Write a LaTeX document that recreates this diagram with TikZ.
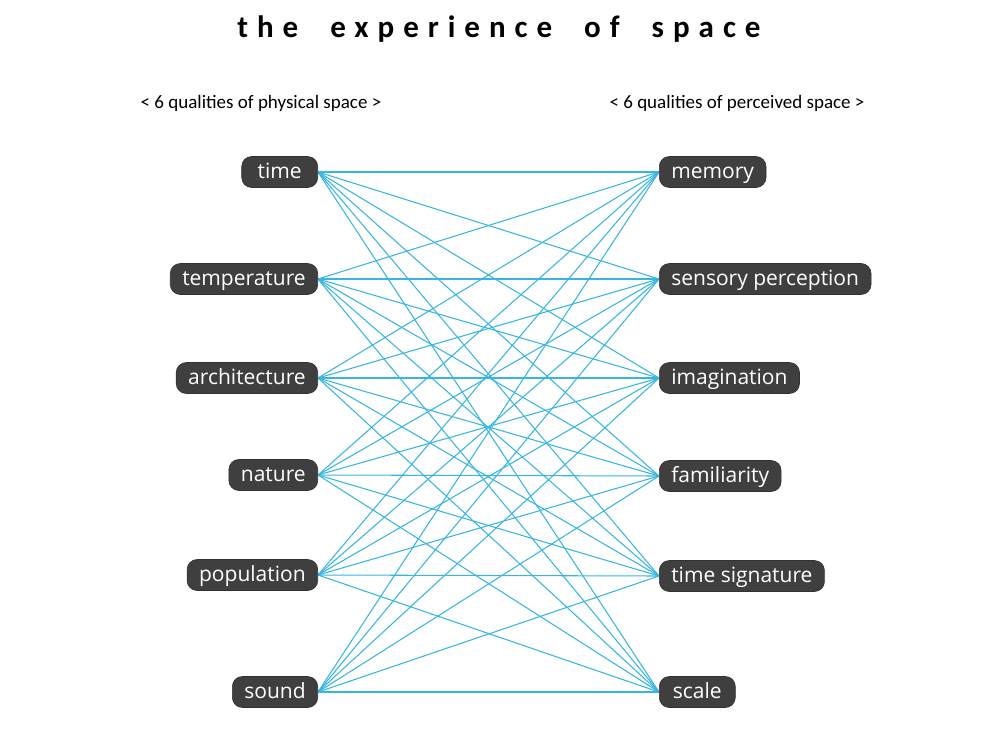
\documentclass[tikz,border=0pt]{standalone}
\usepackage{fontspec}
\setmainfont{Open Sans}
\newfontfamily\subfont{Carlito}
\newfontfamily\titlefont[LetterSpace=29]{Carlito Bold}
\usetikzlibrary{backgrounds}
\definecolor{nodegray}{HTML}{3F3F3F}
\definecolor{linkblue}{HTML}{38B6E0}
\tikzset{
  qual/.style={fill=nodegray, draw=nodegray!80!black, line width=0.6pt, rounded corners=10pt,
    text=white, minimum height=31pt, minimum width=76pt, inner xsep=12pt, inner ysep=0pt,
    text height=16pt, text depth=4pt, font=\fontsize{21}{21}\selectfont},
  link/.style={draw=linkblue, line width=1.05pt},
  lbl/.style={font=\subfont\fontsize{19}{19}\selectfont, text=black}
}
\begin{document}
\begin{tikzpicture}[x=1pt,y=-1pt]
\begin{pgfonlayer}{background}
\fill[white] (0,0) rectangle (1000,737);
\end{pgfonlayer}
\useasboundingbox (0,0) rectangle (1000,737);
\node[font=\titlefont\fontsize{31}{31}\selectfont] (title) at (499,29) {the \ experience \ of \ space};
\node[lbl] (phys) at (261,103) {< 6 qualities of physical space >};
\node[lbl] (perc) at (737,103) {< 6 qualities of perceived space >};
% left
\node[qual, anchor=east] (time) at (318,172) {time};
\node[qual, anchor=east] (temp) at (318,279) {temperature};
\node[qual, anchor=east] (arch) at (318,378) {architecture};
\node[qual, anchor=east] (nat) at (318,475) {nature};
\node[qual, anchor=east] (pop) at (318,575) {population};
\node[qual, anchor=east] (snd) at (318,692) {sound};
% right
\node[qual, anchor=west] (mem) at (659,172) {memory};
\node[qual, anchor=west] (sens) at (659,279) {sensory perception};
\node[qual, anchor=west] (imag) at (659,378) {imagination};
\node[qual, anchor=west] (fam) at (659,476) {familiarity};
\node[qual, anchor=west] (tsig) at (659,576) {time signature};
\node[qual, anchor=west] (scl) at (659,692) {scale};
\begin{pgfonlayer}{background}
\foreach \a in {time,temp,arch,nat,pop,snd}{
  \foreach \b in {mem,sens,imag,fam,tsig,scl}{
    \draw[link] (\a.east) -- (\b.west);
  }
}
\end{pgfonlayer}
\end{tikzpicture}
\end{document}
